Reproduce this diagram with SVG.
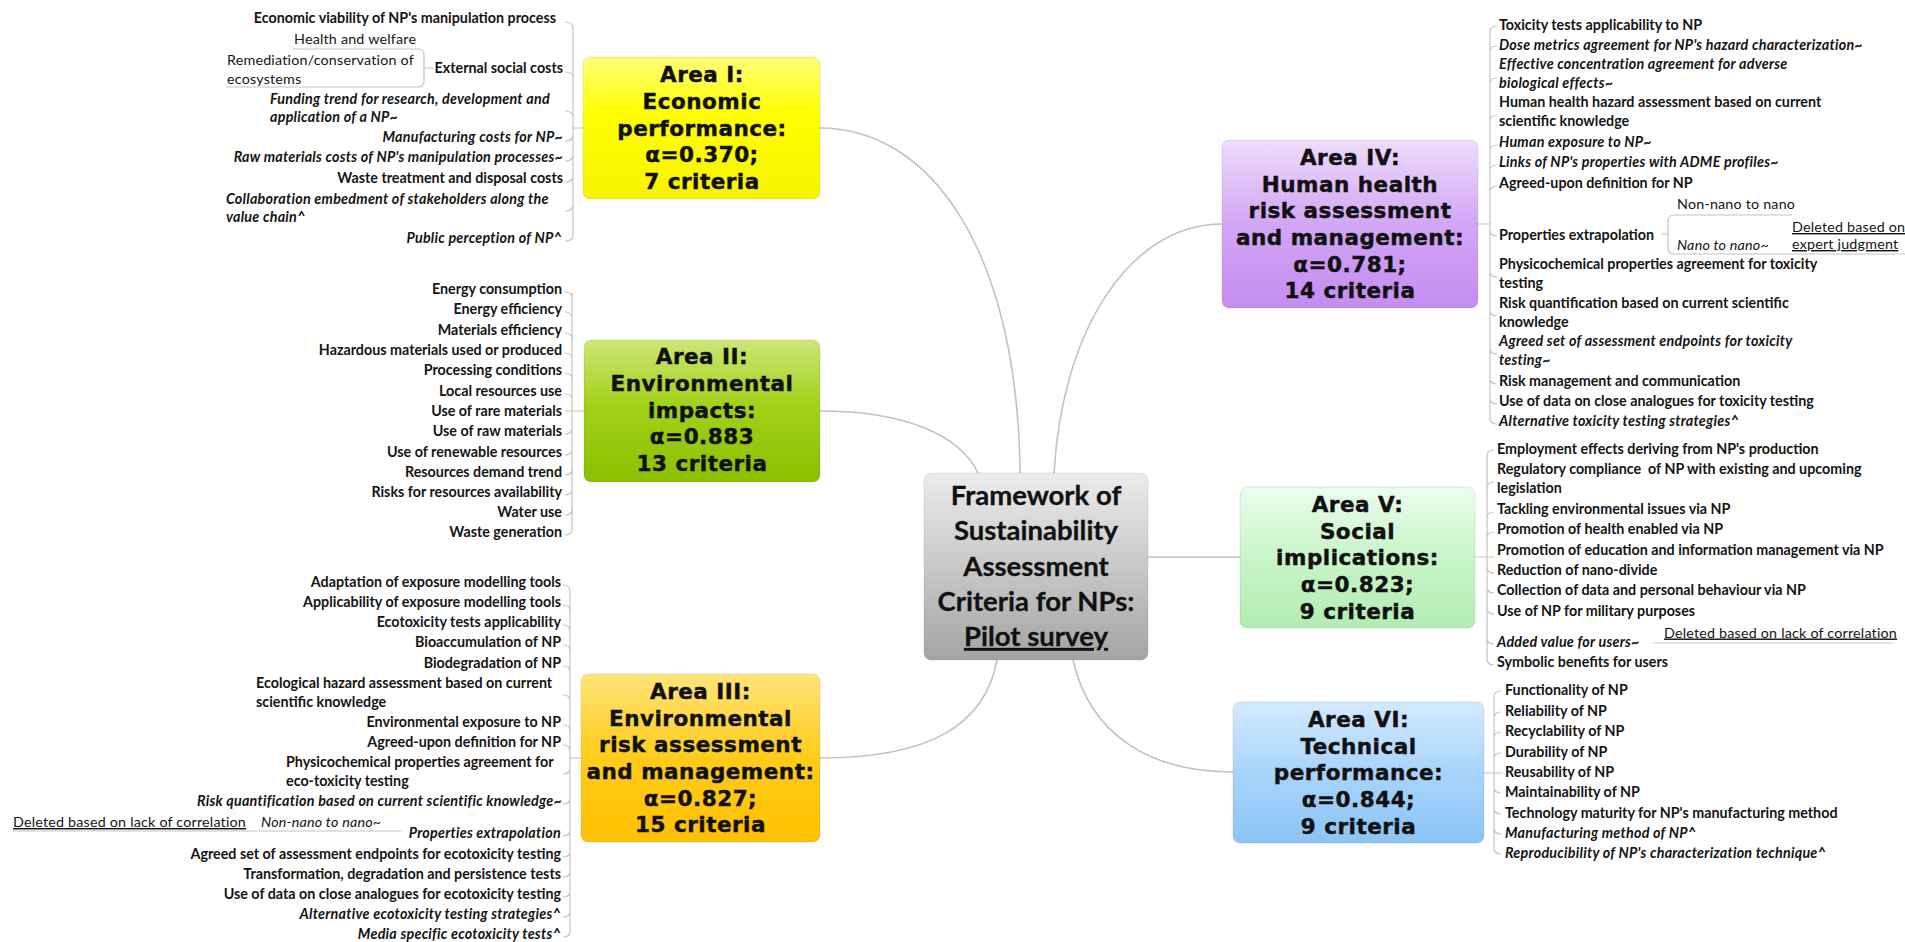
<svg xmlns="http://www.w3.org/2000/svg" width="1905" height="942" viewBox="0 0 1905 942">
<defs>
<style>
.t{font-family:Lato,"Liberation Sans",sans-serif;font-size:14.3px;font-weight:bold;fill:#141414}
.i{font-style:italic;letter-spacing:0.25px}
.r{font-weight:normal;letter-spacing:0.2px}
.u{text-decoration:underline}
.e{text-anchor:end}
.bx{font-family:"DejaVu Sans",Verdana,sans-serif;font-weight:bold;font-size:21.5px;letter-spacing:0.5px;text-anchor:middle;fill:#111;stroke:#111;stroke-width:0.45}
.ct{font-family:Lato,"Liberation Sans",sans-serif;font-weight:bold;font-size:27.5px;text-anchor:middle;fill:#111;stroke:#111;stroke-width:0.3}
.ln{fill:none;stroke:#c4c4c4;stroke-width:1.2}
.mc{fill:none;stroke:#c2c2c2;stroke-width:1.6}
.box{stroke:#000;stroke-opacity:0.08;stroke-width:1}
</style>
<linearGradient id="gI" x1="0" y1="0" x2="0" y2="1"><stop offset="0" stop-color="#ffff78"/><stop offset="0.4" stop-color="#ffff00"/><stop offset="1" stop-color="#f7f300"/></linearGradient>
<linearGradient id="gII" x1="0" y1="0" x2="0" y2="1"><stop offset="0" stop-color="#cde777"/><stop offset="0.45" stop-color="#a2d11a"/><stop offset="1" stop-color="#8bbf00"/></linearGradient>
<linearGradient id="gIII" x1="0" y1="0" x2="0" y2="1"><stop offset="0" stop-color="#ffe47a"/><stop offset="0.5" stop-color="#ffcc1a"/><stop offset="1" stop-color="#ffc000"/></linearGradient>
<linearGradient id="gIV" x1="0" y1="0" x2="0" y2="1"><stop offset="0" stop-color="#efdcfc"/><stop offset="0.5" stop-color="#d2a6f5"/><stop offset="1" stop-color="#c48cf0"/></linearGradient>
<linearGradient id="gV" x1="0" y1="0" x2="0" y2="1"><stop offset="0" stop-color="#ecfcec"/><stop offset="0.5" stop-color="#c8f5c8"/><stop offset="1" stop-color="#b2ecb2"/></linearGradient>
<linearGradient id="gVI" x1="0" y1="0" x2="0" y2="1"><stop offset="0" stop-color="#d3eaff"/><stop offset="0.5" stop-color="#a8d4fb"/><stop offset="1" stop-color="#8cc4f5"/></linearGradient>
<linearGradient id="gC" x1="0" y1="0" x2="0" y2="1"><stop offset="0" stop-color="#ececec"/><stop offset="0.5" stop-color="#c8c8c8"/><stop offset="1" stop-color="#a4a4a4"/></linearGradient>
</defs>
<rect width="1905" height="942" fill="#fff"/>

<g id="connectors">
<path class="mc" d="M820,128 C930,128 1018,250 1020,473"/>
<path class="mc" d="M820,411 C905,411 960,435 978,473"/>
<path class="mc" d="M820,758 C930,758 985,725 997,660"/>
<path class="mc" d="M1222,224 C1130,224 1062,330 1054,473"/>
<path class="mc" d="M1148,557 H1240"/>
<path class="mc" d="M1073,660 C1090,735 1150,772 1233,772"/>
<path class="ln" d="M573,128 H583 M573,26 V236 M565,22 Q573,22 573,28 M565,72 Q573,72 573,78 M565,111 Q573,111 573,117 M565,141 Q573,141 573,135 M565,161 Q573,161 573,155 M565,182 Q573,182 573,176 M565,211 Q573,211 573,205 M565,241 Q573,241 573,235"/>
<path class="ln" d="M293,49 H418 Q424,49 424,55 V81 Q424,87 418,87 H226 M424,68 H433"/>
<path class="ln" d="M565,411 H584 M572,293 V529 M565,292 Q572,292 572,298 M565,312 Q572,312 572,318 M565,333 Q572,333 572,339 M565,353 Q572,353 572,359 M565,373 Q572,373 572,379 M565,394 Q572,394 572,400 M565,434 Q572,434 572,428 M565,455 Q572,455 572,449 M565,475 Q572,475 572,469 M565,495 Q572,495 572,489 M565,515 Q572,515 572,509 M565,535 Q572,535 572,529"/>
<path class="ln" d="M570,758 H581 M570,591 V931 M563,585 Q570,585 570,591 M563,605 Q570,605 570,611 M563,625 Q570,625 570,631 M563,645 Q570,645 570,651 M563,666 Q570,666 570,672 M563,695 Q570,695 570,701 M563,725 Q570,725 570,731 M563,745 Q570,745 570,751 M563,774 Q570,774 570,768 M563,804 Q570,804 570,798 M563,836 Q570,836 570,830 M563,857 Q570,857 570,851 M563,877 Q570,877 570,871 M563,897 Q570,897 570,891 M563,917 Q570,917 570,911 M563,937 Q570,937 570,931"/>
<path class="ln" d="M13,831 H401"/>
<path class="ln" d="M1478,224 H1490 M1490,32 V420 M1490,32 Q1490,26 1497,26 M1490,52 Q1490,46 1497,46 M1490,84 Q1490,78 1497,78 M1490,121 Q1490,115 1497,115 M1490,151 Q1490,145 1497,145 M1490,171 Q1490,165 1497,165 M1490,192 Q1490,186 1497,186 M1490,230 Q1490,236 1497,236 M1490,271 Q1490,277 1497,277 M1490,310 Q1490,316 1497,316 M1490,348 Q1490,354 1497,354 M1490,378 Q1490,384 1497,384 M1490,398 Q1490,404 1497,404 M1490,418 Q1490,424 1497,424"/>
<path class="ln" d="M1792,215 H1674 Q1668,215 1668,221 V248 Q1668,254 1674,254 H1905 M1661,234 H1668"/>
<path class="ln" d="M1475,557 H1494 M1487,456 V661 M1487,456 Q1487,450 1494,450 M1487,488 Q1487,482 1494,482 M1487,518 Q1487,512 1494,512 M1487,538 Q1487,532 1494,532 M1487,567 Q1487,573 1494,573 M1487,587 Q1487,593 1494,593 M1487,608 Q1487,614 1494,614 M1487,638 Q1487,644 1494,644 M1487,659 Q1487,665 1494,665"/>
<path class="ln" d="M1653,643 H1893"/>
<path class="ln" d="M1484,773 H1503 M1494,697 V850 M1494,697 Q1494,691 1501,691 M1494,718 Q1494,712 1501,712 M1494,738 Q1494,732 1501,732 M1494,759 Q1494,753 1501,753 M1494,787 Q1494,793 1501,793 M1494,808 Q1494,814 1501,814 M1494,828 Q1494,834 1501,834 M1494,848 Q1494,854 1501,854"/>
</g>

<g id="center">
<rect x="924" y="473" width="224" height="187" rx="7" fill="url(#gC)" class="box"/>
<text class="ct" x="1036" y="505">Framework of</text>
<text class="ct" x="1036" y="540">Sustainability</text>
<text class="ct" x="1036" y="576">Assessment</text>
<text class="ct" x="1036" y="611">Criteria for NPs:</text>
<text class="ct u" x="1036" y="646">Pilot survey</text>
</g>

<g id="area1">
<rect x="583" y="57" width="237" height="142" rx="7" fill="url(#gI)" class="box"/>
<text class="bx" x="702" y="82">Area I:</text>
<text class="bx" x="702" y="109">Economic</text>
<text class="bx" x="702" y="135.5">performance:</text>
<text class="bx" x="702" y="162">α=0.370;</text>
<text class="bx" x="702" y="189">7 criteria</text>
</g>
<g id="area2">
<rect x="584" y="340" width="236" height="142" rx="7" fill="url(#gII)" class="box"/>
<text class="bx" x="702" y="364">Area II:</text>
<text class="bx" x="702" y="391">Environmental</text>
<text class="bx" x="702" y="417.5">impacts:</text>
<text class="bx" x="702" y="444">α=0.883</text>
<text class="bx" x="702" y="471">13 criteria</text>
</g>
<g id="area3">
<rect x="581" y="674" width="239" height="168" rx="7" fill="url(#gIII)" class="box"/>
<text class="bx" x="700.5" y="699">Area III:</text>
<text class="bx" x="700.5" y="725.5">Environmental</text>
<text class="bx" x="700.5" y="752">risk assessment</text>
<text class="bx" x="700.5" y="779">and management:</text>
<text class="bx" x="700.5" y="805.5">α=0.827;</text>
<text class="bx" x="700.5" y="832">15 criteria</text>
</g>
<g id="area4">
<rect x="1222" y="140" width="256" height="168" rx="7" fill="url(#gIV)" class="box"/>
<text class="bx" x="1350" y="165">Area IV:</text>
<text class="bx" x="1350" y="191.5">Human health</text>
<text class="bx" x="1350" y="218">risk assessment</text>
<text class="bx" x="1350" y="245">and management:</text>
<text class="bx" x="1350" y="271.5">α=0.781;</text>
<text class="bx" x="1350" y="298">14 criteria</text>
</g>
<g id="area5">
<rect x="1240" y="487" width="235" height="141" rx="7" fill="url(#gV)" class="box"/>
<text class="bx" x="1357.5" y="511.5">Area V:</text>
<text class="bx" x="1357.5" y="538.5">Social</text>
<text class="bx" x="1357.5" y="565">implications:</text>
<text class="bx" x="1357.5" y="591.5">α=0.823;</text>
<text class="bx" x="1357.5" y="618.5">9 criteria</text>
</g>
<g id="area6">
<rect x="1233" y="702" width="251" height="141" rx="7" fill="url(#gVI)" class="box"/>
<text class="bx" x="1358.5" y="726.5">Area VI:</text>
<text class="bx" x="1358.5" y="753.5">Technical</text>
<text class="bx" x="1358.5" y="780">performance:</text>
<text class="bx" x="1358.5" y="806.5">α=0.844;</text>
<text class="bx" x="1358.5" y="833.5">9 criteria</text>
</g>

<g id="a1-econ"><text class="t e" x="556" y="23">Economic viability of NP's manipulation process</text></g>
<g id="a1-ext"><text class="t e" x="563" y="73">External social costs</text></g>
<g id="a1-health"><text class="t r" x="294" y="44">Health and welfare</text></g>
<g id="a1-remed"><text class="t r" x="227" y="65">Remediation/conservation of<tspan x="227" dy="19">ecosystems</tspan></text></g>
<g id="a1-fund"><text class="t i" x="270" y="104">Funding trend for research, development and<tspan x="270" dy="18">application of a NP~</tspan></text></g>
<g id="a1-manu"><text class="t i e" x="563" y="142">Manufacturing costs for NP~</text></g>
<g id="a1-raw"><text class="t i e" x="563" y="162">Raw materials costs of NP's manipulation processes~</text></g>
<g id="a1-waste"><text class="t e" x="563" y="183">Waste treatment and disposal costs</text></g>
<g id="a1-collab"><text class="t i" x="226" y="204">Collaboration embedment of stakeholders along the<tspan x="226" dy="18">value chain^</tspan></text></g>
<g id="a1-public"><text class="t i e" x="562" y="243">Public perception of NP^</text></g>

<g id="a2-c1"><text class="t e" x="562" y="294">Energy consumption</text></g>
<g id="a2-c2"><text class="t e" x="562" y="314">Energy efficiency</text></g>
<g id="a2-c3"><text class="t e" x="562" y="335">Materials efficiency</text></g>
<g id="a2-c4"><text class="t e" x="562" y="355">Hazardous materials used or produced</text></g>
<g id="a2-c5"><text class="t e" x="562" y="375">Processing conditions</text></g>
<g id="a2-c6"><text class="t e" x="562" y="396">Local resources use</text></g>
<g id="a2-c7"><text class="t e" x="562" y="416">Use of rare materials</text></g>
<g id="a2-c8"><text class="t e" x="562" y="436">Use of raw materials</text></g>
<g id="a2-c9"><text class="t e" x="562" y="457">Use of renewable resources</text></g>
<g id="a2-c10"><text class="t e" x="562" y="477">Resources demand trend</text></g>
<g id="a2-c11"><text class="t e" x="562" y="497">Risks for resources availability</text></g>
<g id="a2-c12"><text class="t e" x="562" y="517">Water use</text></g>
<g id="a2-c13"><text class="t e" x="562" y="537">Waste generation</text></g>

<g id="a3-c1"><text class="t e" x="561" y="587">Adaptation of exposure modelling tools</text></g>
<g id="a3-c2"><text class="t e" x="561" y="607">Applicability of exposure modelling tools</text></g>
<g id="a3-c3"><text class="t e" x="561" y="627">Ecotoxicity tests applicability</text></g>
<g id="a3-c4"><text class="t e" x="561" y="647">Bioaccumulation of NP</text></g>
<g id="a3-c5"><text class="t e" x="561" y="668">Biodegradation of NP</text></g>
<g id="a3-c6"><text class="t" x="256" y="688">Ecological hazard assessment based on current<tspan x="256" dy="19">scientific knowledge</tspan></text></g>
<g id="a3-c7"><text class="t e" x="561" y="727">Environmental exposure to NP</text></g>
<g id="a3-c8"><text class="t e" x="561" y="747">Agreed-upon definition for NP</text></g>
<g id="a3-c9"><text class="t" x="286" y="767">Physicochemical properties agreement for<tspan x="286" dy="19">eco-toxicity testing</tspan></text></g>
<g id="a3-c10"><text class="t i e" x="562" y="806">Risk quantification based on current scientific knowledge~</text></g>
<g id="a3-c11"><text class="t i e" x="561" y="838">Properties extrapolation</text></g>
<g id="a3-c11a"><text class="t i r" x="261" y="827">Non-nano to nano~</text></g>
<g id="a3-c11b"><text class="t r u" x="13" y="827">Deleted based on lack of correlation</text></g>
<g id="a3-c12"><text class="t e" x="561" y="859">Agreed set of assessment endpoints for ecotoxicity testing</text></g>
<g id="a3-c13"><text class="t e" x="561" y="879">Transformation, degradation and persistence tests</text></g>
<g id="a3-c14"><text class="t e" x="561" y="899">Use of data on close analogues for ecotoxicity testing</text></g>
<g id="a3-c15"><text class="t i e" x="561" y="919">Alternative ecotoxicity testing strategies^</text></g>
<g id="a3-c16"><text class="t i e" x="561" y="939">Media specific ecotoxicity tests^</text></g>

<g id="a4-c1"><text class="t" x="1499" y="30">Toxicity tests applicability to NP</text></g>
<g id="a4-c2"><text class="t i" x="1499" y="50">Dose metrics agreement for NP's hazard characterization~</text></g>
<g id="a4-c3"><text class="t i" x="1499" y="69">Effective concentration agreement for adverse<tspan x="1499" dy="19">biological effects~</tspan></text></g>
<g id="a4-c4"><text class="t" x="1499" y="107">Human health hazard assessment based on current<tspan x="1499" dy="19">scientific knowledge</tspan></text></g>
<g id="a4-c5"><text class="t i" x="1499" y="147">Human exposure to NP~</text></g>
<g id="a4-c6"><text class="t i" x="1499" y="167">Links of NP's properties with ADME profiles~</text></g>
<g id="a4-c7"><text class="t" x="1499" y="188">Agreed-upon definition for NP</text></g>
<g id="a4-c8"><text class="t" x="1499" y="239.5">Properties extrapolation</text></g>
<g id="a4-c8a"><text class="t r" x="1677" y="209">Non-nano to nano</text></g>
<g id="a4-c8b"><text class="t r i" x="1677" y="249.5">Nano to nano~</text></g>
<g id="a4-c8c"><text class="t r u" x="1792" y="232">Deleted based on<tspan x="1792" dy="17">expert judgment</tspan></text></g>
<g id="a4-c9"><text class="t" x="1499" y="269">Physicochemical properties agreement for toxicity<tspan x="1499" dy="19">testing</tspan></text></g>
<g id="a4-c10"><text class="t" x="1499" y="307.5">Risk quantification based on current scientific<tspan x="1499" dy="19">knowledge</tspan></text></g>
<g id="a4-c11"><text class="t i" x="1499" y="345.5">Agreed set of assessment endpoints for toxicity<tspan x="1499" dy="19">testing~</tspan></text></g>
<g id="a4-c12"><text class="t" x="1499" y="385.5">Risk management and communication</text></g>
<g id="a4-c13"><text class="t" x="1499" y="405.5">Use of data on close analogues for toxicity testing</text></g>
<g id="a4-c14"><text class="t i" x="1499" y="425.5">Alternative toxicity testing strategies^</text></g>

<g id="a5-c1"><text class="t" x="1497" y="454">Employment effects deriving from NP's production</text></g>
<g id="a5-c2"><text class="t" x="1497" y="474" xml:space="preserve">Regulatory compliance  of NP with existing and upcoming<tspan x="1497" dy="19">legislation</tspan></text></g>
<g id="a5-c3"><text class="t" x="1497" y="514">Tackling environmental issues via NP</text></g>
<g id="a5-c4"><text class="t" x="1497" y="534">Promotion of health enabled via NP</text></g>
<g id="a5-c5"><text class="t" x="1497" y="555">Promotion of education and information management via NP</text></g>
<g id="a5-c6"><text class="t" x="1497" y="575">Reduction of nano-divide</text></g>
<g id="a5-c7"><text class="t" x="1497" y="595">Collection of data and personal behaviour via NP</text></g>
<g id="a5-c8"><text class="t" x="1497" y="616">Use of NP for military purposes</text></g>
<g id="a5-c9"><text class="t i" x="1497" y="646.5">Added value for users~</text></g>
<g id="a5-c9a"><text class="t r u" x="1664" y="637.5">Deleted based on lack of correlation</text></g>
<g id="a5-c10"><text class="t" x="1497" y="667">Symbolic benefits for users</text></g>

<g id="a6-c1"><text class="t" x="1505" y="695">Functionality of NP</text></g>
<g id="a6-c2"><text class="t" x="1505" y="716">Reliability of NP</text></g>
<g id="a6-c3"><text class="t" x="1505" y="736">Recyclability of NP</text></g>
<g id="a6-c4"><text class="t" x="1505" y="757">Durability of NP</text></g>
<g id="a6-c5"><text class="t" x="1505" y="777">Reusability of NP</text></g>
<g id="a6-c6"><text class="t" x="1505" y="797">Maintainability of NP</text></g>
<g id="a6-c7"><text class="t" x="1505" y="818">Technology maturity for NP's manufacturing method</text></g>
<g id="a6-c8"><text class="t i" x="1505" y="838">Manufacturing method of NP^</text></g>
<g id="a6-c9"><text class="t i" x="1505" y="858">Reproducibility of NP's characterization technique^</text></g>
</svg>
